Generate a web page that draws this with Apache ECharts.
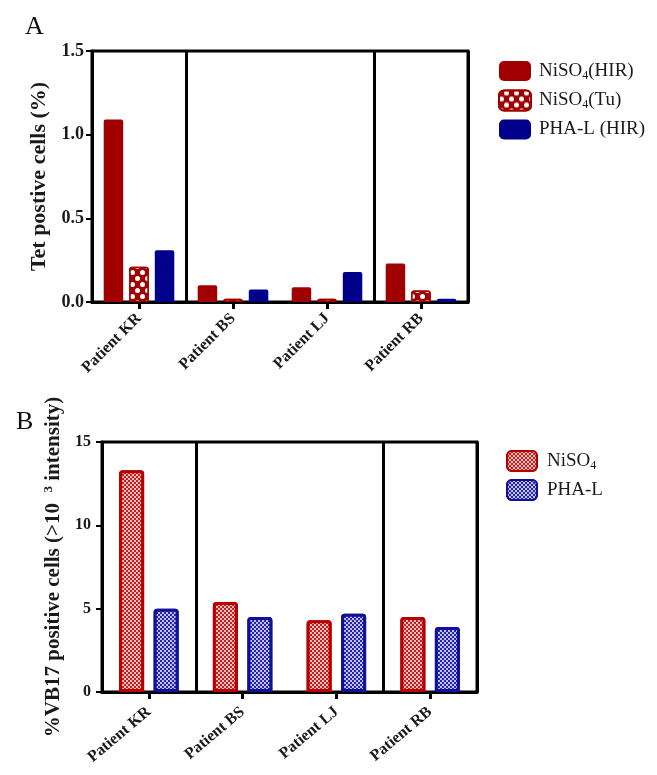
<!DOCTYPE html>
<html><head><meta charset="utf-8">
<script src="https://cdn.jsdelivr.net/npm/echarts@6/dist/echarts.min.js"></script>
<style>html,body{margin:0;padding:0;background:#fff}#c{width:657px;height:775px}</style>
</head><body><div id="c"></div>
<script>
const categories = ['Patient KR', 'Patient BS', 'Patient LJ', 'Patient RB'];
// Panel A: Tet positive cells (%)
const seriesNamesA = ['NiSO4(HIR)', 'NiSO4(Tu)', 'PHA-L (HIR)'];
const niso4HIR = [1.09, 0.10, 0.088, 0.23];
const niso4Tu = [0.21, 0.02, 0.02, 0.068];
const phaHIR = [0.31, 0.075, 0.18, 0.02];
const yTicksA = [0, 0.5, 1.0, 1.5];
// Panel B: %VB17 positive cells
const seriesNamesB = ['NiSO4', 'PHA-L'];
const niso4B = [13.3, 5.4, 4.3, 4.5];
const phaB = [5.0, 4.5, 4.7, 3.9];
const yTicksB = [0, 5, 10, 15];

const SERIF = '"Liberation Serif","DejaVu Serif",serif';
const TXT = '#1a1a1a';
const RED = '#A00000';
const BLUE = '#00008B';

const chart = echarts.init(document.getElementById('c'), null, {renderer: 'canvas'});

function xAxisFor(gridIndex, rot, margin) {
  return {
    type: 'category', gridIndex: gridIndex, data: categories,
    axisLine: {show: true, lineStyle: {color: '#000', width: 3}},
    axisTick: {show: true, alignWithLabel: true, length: 7, lineStyle: {color: '#000', width: 3}},
    axisLabel: {rotate: rot, margin: margin, fontFamily: SERIF, fontWeight: 'bold', fontSize: 16, color: TXT},
    splitLine: {show: true, interval: function (i) { return i === 1 || i === 3; }, lineStyle: {color: '#000', width: 3}}
  };
}

const subRich = {sub: {fontSize: 12, fontFamily: SERIF, color: TXT, padding: [9, 0, 0, 0]}};
function legendFmt(name) { return name.replace('NiSO4', 'NiSO{sub|4}'); }

const checkerDecal = {symbol: 'rect', symbolSize: 1, color: 'rgba(255,255,255,0.72)',
  dashArrayX: [[2, 2], [0, 2, 2, 0]], dashArrayY: [2, 0]};

chart.setOption({
  animation: false,
  backgroundColor: '#fff',
  title: [
    {text: 'A', left: 20, top: 9, textStyle: {fontFamily: SERIF, fontWeight: 'normal', fontSize: 26, color: '#111'}},
    {text: 'B', left: 11, top: 404, textStyle: {fontFamily: SERIF, fontWeight: 'normal', fontSize: 26, color: '#111'}}
  ],
  grid: [
    {left: 92, top: 51, right: 189, bottom: 473, show: true, borderColor: '#000', borderWidth: 3},
    {left: 102, top: 442, right: 180, bottom: 83, show: true, borderColor: '#000', borderWidth: 3}
  ],
  legend: [
    {data: seriesNamesA, orient: 'vertical', left: 493, top: 56, itemWidth: 32, itemHeight: 20, itemGap: 8,
     icon: 'roundRect', selectedMode: false, formatter: legendFmt,
     textStyle: {fontFamily: SERIF, fontSize: 19, color: TXT, padding: [0, 0, 0, 3], rich: subRich}},
    {data: seriesNamesB, orient: 'vertical', left: 501, top: 445, itemWidth: 30, itemHeight: 20, itemGap: 7,
     icon: 'roundRect', selectedMode: false, formatter: legendFmt,
     textStyle: {fontFamily: SERIF, fontSize: 19, color: TXT, padding: [0, 0, 0, 5], rich: subRich}}
  ],
  xAxis: [xAxisFor(0, 45, 14), xAxisFor(1, 40, 18)],
  yAxis: [
    {type: 'value', gridIndex: 0, min: yTicksA[0], max: yTicksA[yTicksA.length - 1], interval: 0.5,
     name: 'Tet postive cells (%)', nameLocation: 'middle', nameGap: 35,
     nameTextStyle: {fontFamily: SERIF, fontWeight: 'bold', fontSize: 22, color: TXT},
     axisLine: {show: true, lineStyle: {color: '#000', width: 3}},
     axisTick: {show: true, length: 6, lineStyle: {color: '#000', width: 2}},
     axisLabel: {margin: 8, fontFamily: SERIF, fontWeight: 'bold', fontSize: 18, color: TXT,
       formatter: function (v) { return v.toFixed(1); }},
     splitLine: {show: false}},
    {type: 'value', gridIndex: 1, min: yTicksB[0], max: yTicksB[yTicksB.length - 1], interval: 5,
     name: '%VB17 positive cells (>10  {sup|3} intensity)', nameLocation: 'middle', nameGap: 29,
     nameTextStyle: {fontFamily: SERIF, fontWeight: 'bold', fontSize: 21, color: TXT,
       rich: {sup: {fontFamily: SERIF, fontWeight: 'bold', fontSize: 13, color: TXT, padding: [0, 0, 9, 0]}}},
     axisLine: {show: true, lineStyle: {color: '#000', width: 3}},
     axisTick: {show: true, length: 6, lineStyle: {color: '#000', width: 2}},
     axisLabel: {margin: 11, fontFamily: SERIF, fontWeight: 'bold', fontSize: 16, color: TXT},
     splitLine: {show: false}}
  ],
  series: [
    {name: seriesNamesA[0], type: 'bar', xAxisIndex: 0, yAxisIndex: 0, data: niso4HIR,
     barWidth: 19.5, barGap: '31%', itemStyle: {color: RED, borderRadius: [2, 2, 0, 0]}},
    {name: seriesNamesA[1], type: 'bar', xAxisIndex: 0, yAxisIndex: 0, data: niso4Tu,
     barWidth: 19.5, barGap: '31%',
     itemStyle: {color: RED, borderColor: RED, borderWidth: 1.5, borderRadius: [2, 2, 0, 0],
       decal: {symbol: 'circle', symbolSize: 1, color: '#ffffff',
         dashArrayX: [[5, 5], [0, 5, 5, 0]], dashArrayY: [5, 1]}}},
    {name: seriesNamesA[2], type: 'bar', xAxisIndex: 0, yAxisIndex: 0, data: phaHIR,
     barWidth: 19.5, barGap: '31%', itemStyle: {color: BLUE, borderRadius: [2, 2, 0, 0]}},
    {name: seriesNamesB[0], type: 'bar', xAxisIndex: 1, yAxisIndex: 1, data: niso4B,
     barWidth: 25, barGap: '38%',
     itemStyle: {color: '#C41E1E', borderColor: '#B80000', borderWidth: 3, borderRadius: [2, 2, 0, 0], decal: checkerDecal}},
    {name: seriesNamesB[1], type: 'bar', xAxisIndex: 1, yAxisIndex: 1, data: phaB,
     barWidth: 25, barGap: '38%',
     itemStyle: {color: '#2424B0', borderColor: '#10109A', borderWidth: 3, borderRadius: [2, 2, 0, 0], decal: checkerDecal}}
  ]
});
</script></body></html>
